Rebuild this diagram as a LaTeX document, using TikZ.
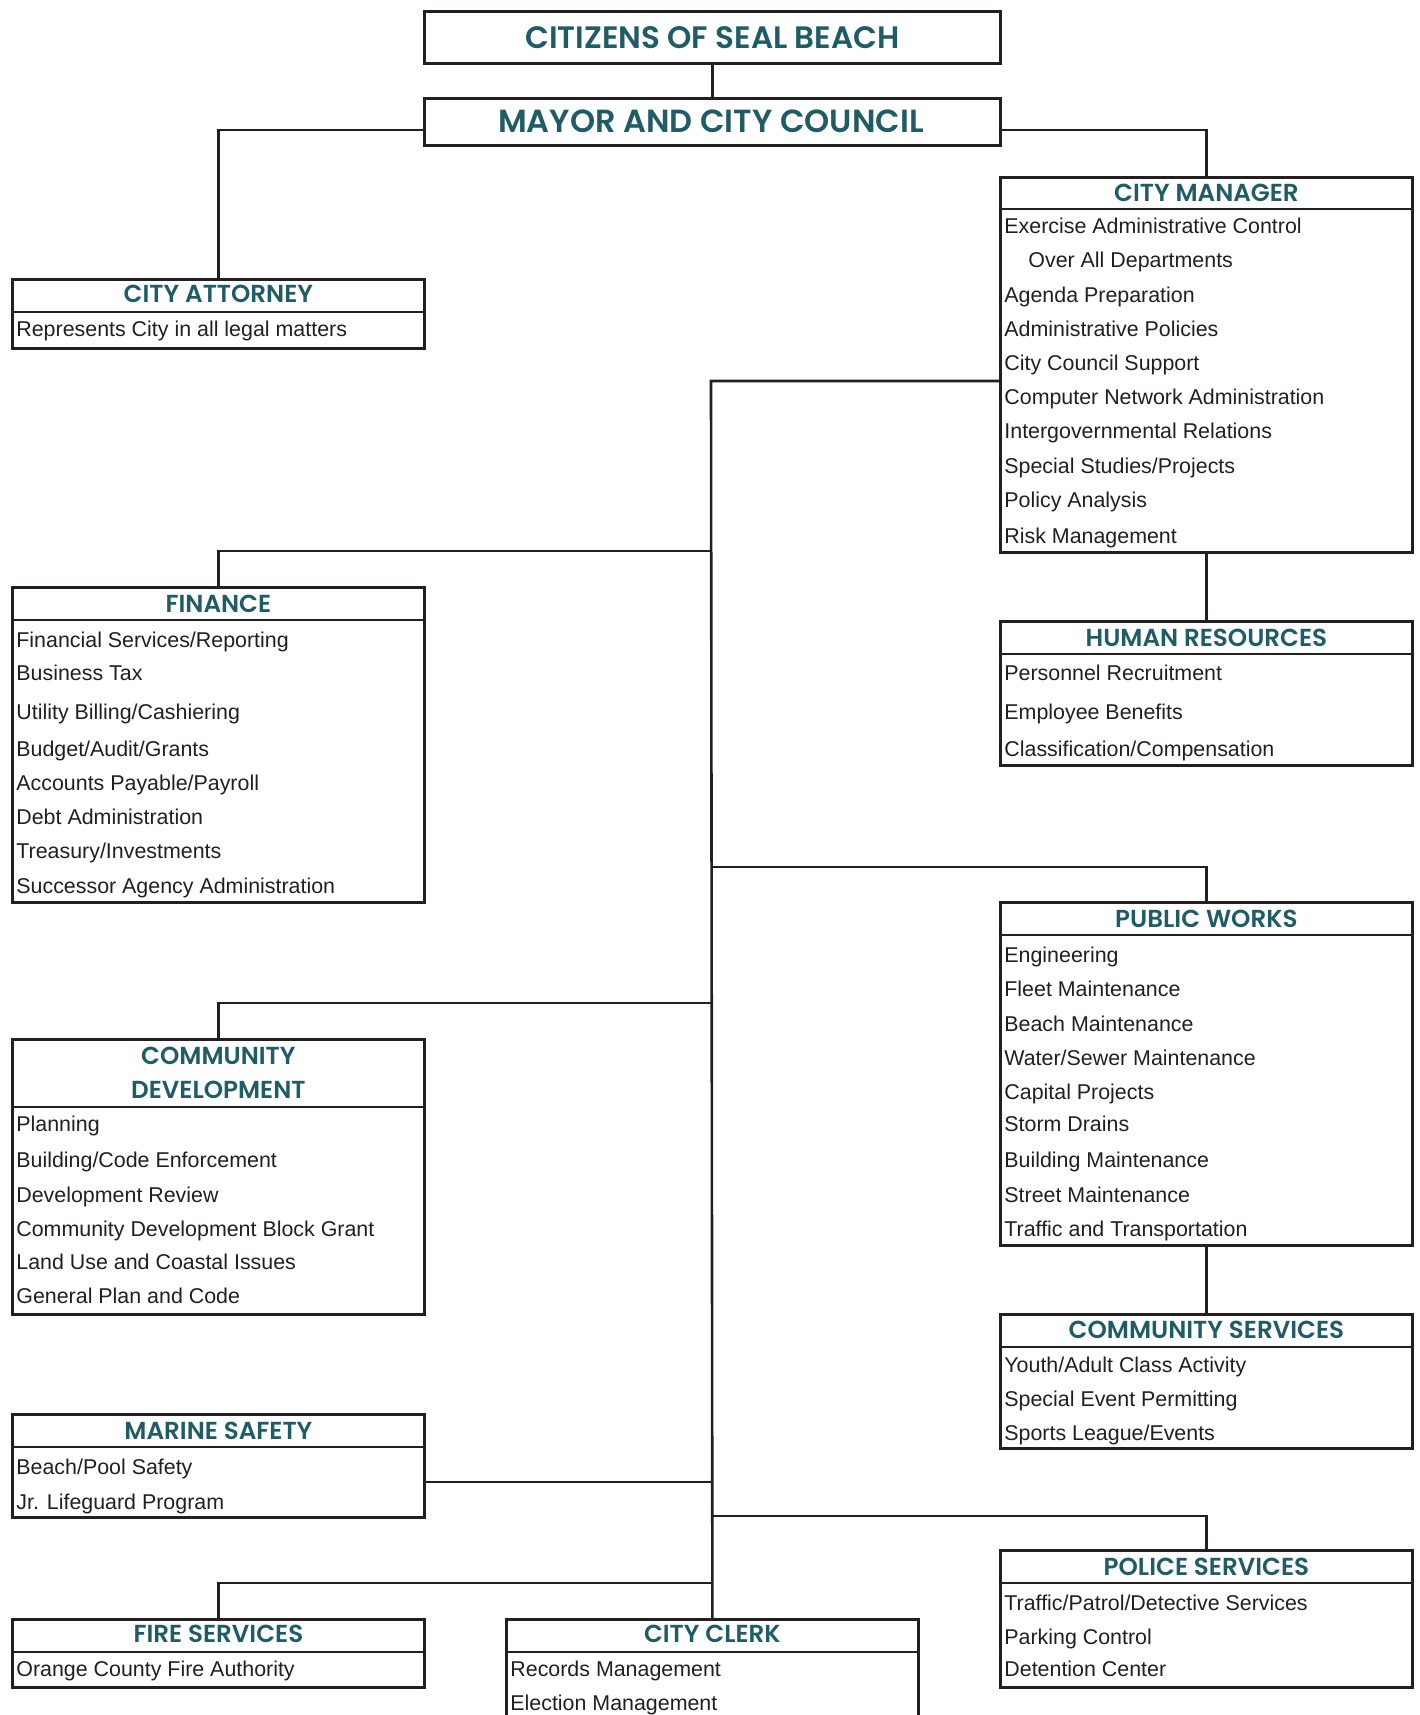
\documentclass[tikz,border=0pt]{standalone}
\usepackage{fontspec}
\setmainfont{Liberation Sans}
\newfontfamily\headfont{Poppins SemiBold}
\definecolor{teal}{RGB}{32,92,102}
\definecolor{ink}{RGB}{35,31,32}
\begin{document}
\begin{tikzpicture}[x=0.5pt,y=-0.5pt,
  box/.style={draw=ink,line width=1.4pt,rectangle,anchor=north west,inner sep=0pt,minimum width=206pt},
  conn/.style={draw=ink,line width=1.3pt},
  head/.style={text=teal,font=\headfont\fontsize{12.3}{13}\selectfont,inner sep=0pt},
  bighead/.style={text=teal,font=\headfont\fontsize{16}{18}\selectfont,inner sep=0pt},
  item/.style={anchor=west,text=ink,font=\fontsize{10.7}{12}\selectfont,inner sep=0pt,text height=0.72em,text depth=0.2em,yshift=-1pt}]
\clip (0,0) rectangle (1420,1715);
\fill[white] (0,0) rectangle (1420,1715);
% boxes
\node[box,minimum width=288pt,minimum height=26pt] (citizens) at (423,10) {};
\node[box,minimum width=288pt,minimum height=23.5pt] (mayor) at (423,97) {};
\node[box,minimum height=34.5pt] (attorney) at (11,278) {};
\node[box,minimum height=187.5pt] (cm) at (999,176) {};
\node[box,minimum height=157.5pt] (finance) at (11,586) {};
\node[box,minimum height=72pt] (hr) at (999,620) {};
\node[box,minimum height=171.5pt] (pw) at (999,901) {};
\node[box,minimum height=137.5pt] (cd) at (11,1038) {};
\node[box,minimum height=67pt] (cs) at (999,1313) {};
\node[box,minimum height=51.5pt] (marine) at (11,1413) {};
\node[box,minimum height=68.5pt] (police) at (999,1549) {};
\node[box,minimum height=34pt] (fire) at (11,1618) {};
\node[box,minimum height=60pt] (clerk) at (505,1618) {};
% dividers
\draw[conn] (attorney.west |- 0,312) -- (attorney.east |- 0,312);
\draw[conn] (cm.west |- 0,209) -- (cm.east |- 0,209);
\draw[conn] (finance.west |- 0,620) -- (finance.east |- 0,620);
\draw[conn] (hr.west |- 0,654) -- (hr.east |- 0,654);
\draw[conn] (pw.west |- 0,935) -- (pw.east |- 0,935);
\draw[conn] (cd.west |- 0,1107) -- (cd.east |- 0,1107);
\draw[conn] (cs.west |- 0,1347) -- (cs.east |- 0,1347);
\draw[conn] (marine.west |- 0,1447) -- (marine.east |- 0,1447);
\draw[conn] (police.west |- 0,1583) -- (police.east |- 0,1583);
\draw[conn] (fire.west |- 0,1652) -- (fire.east |- 0,1652);
\draw[conn] (clerk.west |- 0,1652) -- (clerk.east |- 0,1652);
% trunk coordinates
\coordinate (trunktop) at (711,381);
\coordinate (jfin) at (711,551);
\coordinate (jpw) at (711,867);
\coordinate (jcd) at (711,1003);
\coordinate (jmar) at (711,1482);
\coordinate (jpol) at (711,1516);
\coordinate (jfire) at (711,1583);
% connectors
\draw[conn] (citizens.south) -- (mayor.north);
\draw[conn] (mayor.west |- 0,130) -| (attorney.north);
\draw[conn] (mayor.east |- 0,130) -| (cm.north);
\draw[conn] (cm.west |- trunktop) -- (trunktop) -- (clerk.north);
\draw[conn] (jfin) -| (finance.north);
\draw[conn] (cm.south) -- (hr.north);
\draw[conn] (jpw) -| (pw.north);
\draw[conn] (jcd) -| (cd.north);
\draw[conn] (pw.south) -- (cs.north);
\draw[conn] (marine.east |- jmar) -- (jmar);
\draw[conn] (jpol) -| (police.north);
\draw[conn] (jfire) -| (fire.north);
% headings
\node[bighead,font=\headfont\fontsize{15.5}{18}\selectfont] (t1) at (citizens.center) {CITIZENS OF SEAL BEACH};
\node[bighead] (t2) at (711,121) {MAYOR AND CITY COUNCIL};
\node[head] (t3) at (attorney.north |- 0,294) {CITY ATTORNEY};
\node[head] (t4) at (cm.north |- 0,193) {CITY MANAGER};
\node[head] (t5) at (finance.north |- 0,604) {FINANCE};
\node[head] (t6) at (hr.north |- 0,638) {HUMAN RESOURCES};
\node[head] (t7) at (pw.north |- 0,919) {PUBLIC WORKS};
\node[head] (t8a) at (cd.north |- 0,1056) {COMMUNITY};
\node[head] (t8b) at (cd.north |- 0,1090) {DEVELOPMENT};
\node[head] (t9) at (cs.north |- 0,1330) {COMMUNITY SERVICES};
\node[head] (t10) at (marine.north |- 0,1431) {MARINE SAFETY};
\node[head] (t11) at (police.north |- 0,1567) {POLICE SERVICES};
\node[head] (t12) at (fire.north |- 0,1634) {FIRE SERVICES};
\node[head] (t13) at (clerk.north |- 0,1634) {CITY CLERK};
% items
\node[item] (a1) at (16,329) {Represents City in all legal matters};
\node[item] (c1) at (1004,226) {Exercise Administrative Control};
\node[item] (c2) at (1028,260) {Over All Departments};
\node[item] (c3) at (1004,295) {Agenda Preparation};
\node[item] (c4) at (1004,329) {Administrative Policies};
\node[item] (c5) at (1004,363) {City Council Support};
\node[item] (c6) at (1004,397) {Computer Network Administration};
\node[item] (c7) at (1004,431) {Intergovernmental Relations};
\node[item] (c8) at (1004,466) {Special Studies/Projects};
\node[item] (c9) at (1004,500) {Policy Analysis};
\node[item] (c10) at (1004,536) {Risk Management};
\node[item] (f1) at (16,640) {Financial Services/Reporting};
\node[item] (f2) at (16,673) {Business Tax};
\node[item] (f3) at (16,712) {Utility Billing/Cashiering};
\node[item] (f4) at (16,749) {Budget/Audit/Grants};
\node[item] (f5) at (16,783) {Accounts Payable/Payroll};
\node[item] (f6) at (16,817) {Debt Administration};
\node[item] (f7) at (16,851) {Treasury/Investments};
\node[item] (f8) at (16,886) {Successor Agency Administration};
\node[item] (h1) at (1004,673) {Personnel Recruitment};
\node[item] (h2) at (1004,712) {Employee Benefits};
\node[item] (h3) at (1004,749) {Classification/Compensation};
\node[item] (p1) at (1004,955) {Engineering};
\node[item] (p2) at (1004,989) {Fleet Maintenance};
\node[item] (p3) at (1004,1024) {Beach Maintenance};
\node[item] (p4) at (1004,1058) {Water/Sewer Maintenance};
\node[item] (p5) at (1004,1092) {Capital Projects};
\node[item] (p6) at (1004,1124) {Storm Drains};
\node[item] (p7) at (1004,1160) {Building Maintenance};
\node[item] (p8) at (1004,1195) {Street Maintenance};
\node[item] (p9) at (1004,1229) {Traffic and Transportation};
\node[item] (d1) at (16,1124) {Planning};
\node[item] (d2) at (16,1160) {Building/Code Enforcement};
\node[item] (d3) at (16,1195) {Development Review};
\node[item] (d4) at (16,1229) {Community Development Block Grant};
\node[item] (d5) at (16,1262) {Land Use and Coastal Issues};
\node[item] (d6) at (16,1296) {General Plan and Code};
\node[item] (s1) at (1004,1365) {Youth/Adult Class Activity};
\node[item] (s2) at (1004,1399) {Special Event Permitting};
\node[item] (s3) at (1004,1433) {Sports League/Events};
\node[item] (m1) at (16,1467) {Beach/Pool Safety};
\node[item] (m2) at (16,1502) {Jr. Lifeguard Program};
\node[item] (o1) at (1004,1603) {Traffic/Patrol/Detective Services};
\node[item] (o2) at (1004,1637) {Parking Control};
\node[item] (o3) at (1004,1669) {Detention Center};
\node[item] (fi1) at (16,1669) {Orange County Fire Authority};
\node[item] (k1) at (510,1669) {Records Management};
\node[item] (k2) at (510,1703) {Election Management};
\end{tikzpicture}
\end{document}
